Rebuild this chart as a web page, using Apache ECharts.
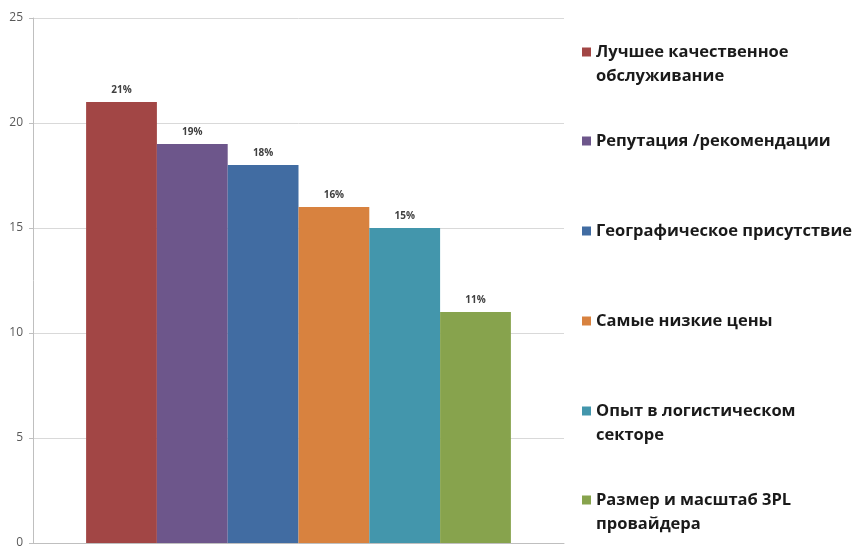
<!DOCTYPE html>
<html><head><meta charset="utf-8">
<script src="https://cdn.jsdelivr.net/npm/echarts@6/dist/echarts.min.js"></script>
<style>html,body{margin:0;padding:0;background:#fff}#c{width:852px;height:549px}</style>
</head><body><div id="c"></div>
<script>
var categories = [''];
var seriesNames = ['Лучшее качественное\nобслуживание','Репутация /рекомендации','Географическое присутствие','Самые низкие цены','Опыт в логистическом\nсекторе','Размер и масштаб 3PL\nпровайдера'];
var seriesValues = [21, 19, 18, 16, 15, 11];
var valueLabels = ['21%','19%','18%','16%','15%','11%'];
var colors = ['#A24645','#6D568B','#416CA2','#D8823F','#4396AC','#87A34D'];
var yTicks = {min:0, max:25, interval:5};
var legendTops = [52, 141, 231, 321, 411, 500];

var series = seriesNames.map(function(n,i){
  return {
    name:n, type:'bar', barGap:'0%', barCategoryGap:'20%',
    itemStyle:{color:colors[i]},
    label:{show:true, position:'top', distance:7, formatter:valueLabels[i],
      fontFamily:'Open Sans', fontWeight:'bold', fontSize:10, color:'#404040'},
    data:[seriesValues[i]]
  };
});
var legends = seriesNames.map(function(n,i){
  var twoLine = n.indexOf('\n')>=0;
  var fs=16.5, lh=24;
  var off = twoLine ? 36 : 12;
  return {
    data:[n],
    left:582, top: legendTops[i]-off, padding:0, itemWidth:9, itemHeight:9,
    icon:'rect', selectedMode:false,
    formatter: twoLine ? function(name){ return '\u00a0\n' + name; } : '{name}',
    textStyle:{fontFamily:'Open Sans', fontWeight:'bold', fontSize:fs, lineHeight:lh, color:'#1a1a1a'}
  };
});
var chart = echarts.init(document.getElementById('c'));
chart.setOption({
  animation:false,
  grid:{left:33, right:288, top:18, bottom:3, containLabel:false},
  legend: legends,
  xAxis:{type:'category', data:categories,
    axisLine:{lineStyle:{color:'#BFBFBF'}}, axisTick:{show:false}, axisLabel:{show:false}},
  yAxis:{type:'value', min:yTicks.min, max:yTicks.max, interval:yTicks.interval,
    axisLine:{show:true, lineStyle:{color:'#BFBFBF'}},
    axisTick:{show:true, length:4, lineStyle:{color:'#BFBFBF'}},
    axisLabel:{margin:10, fontFamily:'Open Sans', fontSize:12, color:'#595959'},
    splitLine:{lineStyle:{color:'#D9D9D9'}}},
  series:series
});
</script></body></html>
